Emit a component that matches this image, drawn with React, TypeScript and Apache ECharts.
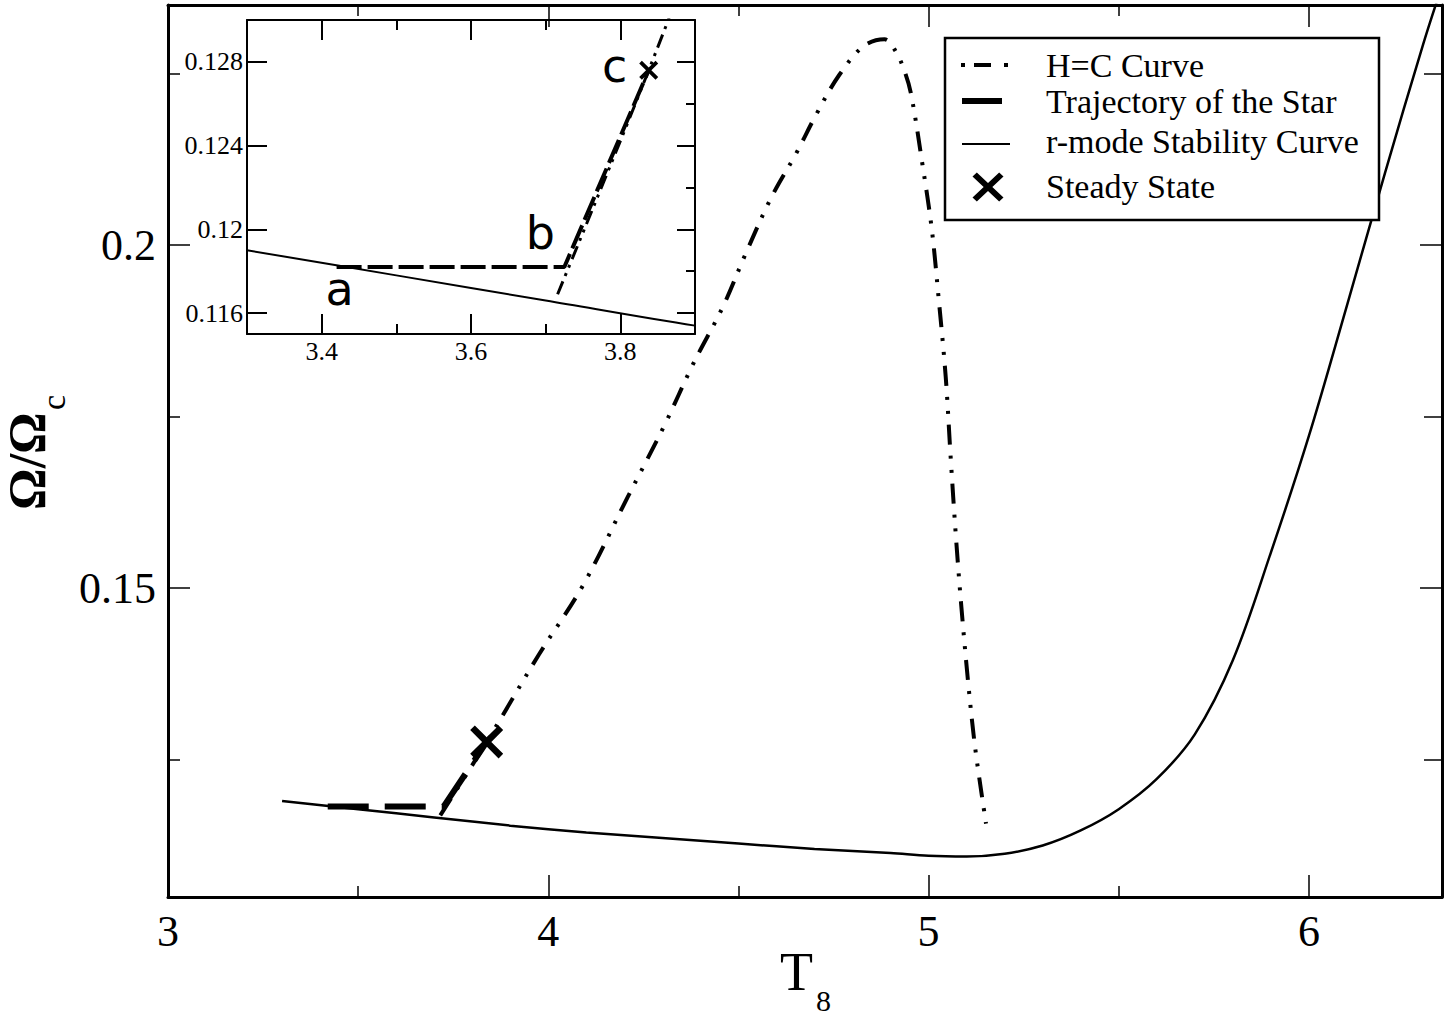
import React, { useEffect, useRef } from "react";
import * as echarts from "echarts";

// r-mode stability curve
const T_RMODE = [3.3, 3.5, 3.7, 3.9, 4.1, 4.3, 4.5, 4.7, 4.9, 5.0, 5.1, 5.2, 5.3, 5.4, 5.5, 5.6, 5.7, 5.8, 5.9, 6.0, 6.1, 6.2, 6.3, 6.35];
const OMEGA_RMODE = [0.119, 0.1178, 0.1166, 0.1154, 0.1144, 0.1136, 0.1128, 0.112, 0.1114, 0.111, 0.1109, 0.1113, 0.1125, 0.1147, 0.1178, 0.1222, 0.1287, 0.1395, 0.1552, 0.1722, 0.1912, 0.2105, 0.2292, 0.2378];

// H=C curve
const T_HC = [3.716, 3.838, 3.975, 4.091, 4.208, 4.305, 4.381, 4.459, 4.517, 4.585, 4.653, 4.706, 4.765, 4.829, 4.884, 4.913, 4.937, 4.954, 4.984, 5.008, 5.026, 5.045, 5.058, 5.072, 5.086, 5.105, 5.123, 5.151];
const OMEGA_HC = [0.1169, 0.1276, 0.1403, 0.1504, 0.1632, 0.1737, 0.1827, 0.191, 0.1985, 0.2068, 0.2135, 0.2192, 0.2248, 0.229, 0.23, 0.2283, 0.2253, 0.222, 0.2117, 0.2025, 0.1925, 0.1808, 0.1691, 0.1574, 0.1474, 0.1357, 0.1265, 0.1157];

// trajectory of the star (a -> b -> c)
const T_TRAJ = [3.42, 3.725, 3.838];
const OMEGA_TRAJ = [0.1182, 0.1182, 0.1276];
const TRAJ_LABELS = ["a", "b", "c"];

// steady state
const T_STEADY = [3.838];
const OMEGA_STEADY = [0.1276];

// ticks
const MAIN_X_MAJOR = [3, 4, 5, 6];
const MAIN_X_MINOR = [3.5, 4.5, 5.5];
const MAIN_Y_MAJOR = [0.15, 0.2];
const MAIN_Y_MINOR = [0.125, 0.175, 0.225];
const INSET_X_MAJOR = [3.4, 3.6, 3.8];
const INSET_X_MINOR = [3.5, 3.7];
const INSET_Y_MAJOR = [0.116, 0.12, 0.124, 0.128];
const INSET_Y_MINOR = [0.118, 0.122, 0.126];

const LEGEND_NAMES = ["H=C Curve", "Trajectory of the Star", "r-mode Stability Curve", "Steady State"];

const SERIF = "'Liberation Serif', 'Times New Roman', serif";
const X_PATH = "path://M0 14L14 0L50 36L86 0L100 14L64 50L100 86L86 100L50 64L14 100L0 86L36 50Z";
const X_PTS = [[0, 14], [14, 0], [50, 36], [86, 0], [100, 14], [64, 50], [100, 86], [86, 100], [50, 64], [14, 100], [0, 86], [36, 50]];

const zip = (xs: number[], ys: number[]) => xs.map((x, i) => [x, ys[i]]);
const fmt = (v: number) => String(parseFloat(Number(v).toFixed(4)));

const axis = (
  gridIndex: number,
  position: string,
  min: number,
  max: number,
  ticks: number[],
  tickLen: number,
  tickWidth: number,
  lineWidth: number,
  labels?: number[],
  labelStyle?: any
) => ({
  type: "value",
  gridIndex,
  position,
  min,
  max,
  axisLine: { show: lineWidth > 0, onZero: false, lineStyle: { color: "#000", width: lineWidth } },
  axisTick: { show: true, inside: true, length: tickLen, customValues: ticks, lineStyle: { color: "#000", width: tickWidth } },
  axisLabel: labels
    ? { show: true, customValues: labels, formatter: fmt, color: "#000", fontFamily: SERIF, ...labelStyle }
    : { show: false },
  splitLine: { show: false },
  minorTick: { show: false },
});

const App: React.FC = () => {
  const chartRef = useRef<HTMLDivElement | null>(null);

  useEffect(() => {
    if (!chartRef.current) return;
    const chart = echarts.init(chartRef.current, null, { renderer: "svg" });

    const mainLabel = { fontSize: 44, margin: 12 };
    const insetLabel = { fontSize: 26, margin: 4 };

    const legendRows = [65, 101, 141, 186];

    const option = {
      animation: false,
      backgroundColor: "#fff",
      grid: [
        { left: 168, top: 5, width: 1274, height: 892, containLabel: false, outerBoundsMode: "none" },
        { left: 247, top: 20, width: 448, height: 314, containLabel: false, outerBoundsMode: "none", show: true, backgroundColor: "#fff", borderWidth: 0 },
      ],
      xAxis: [
        axis(0, "bottom", 3, 6.35, MAIN_X_MAJOR, 22, 1.5, 3, MAIN_X_MAJOR, mainLabel),
        axis(0, "bottom", 3, 6.35, MAIN_X_MINOR, 11, 1.5, 0),
        axis(0, "top", 3, 6.35, MAIN_X_MAJOR, 22, 1.5, 3),
        axis(0, "top", 3, 6.35, MAIN_X_MINOR, 11, 1.5, 0),
        axis(1, "bottom", 3.3, 3.9, INSET_X_MAJOR, 20, 2, 2, INSET_X_MAJOR, insetLabel),
        axis(1, "bottom", 3.3, 3.9, INSET_X_MINOR, 10, 2, 0),
        axis(1, "top", 3.3, 3.9, INSET_X_MAJOR, 20, 2, 2),
        axis(1, "top", 3.3, 3.9, INSET_X_MINOR, 10, 2, 0),
      ],
      yAxis: [
        axis(0, "left", 0.105, 0.235, MAIN_Y_MAJOR, 22, 1.5, 3, MAIN_Y_MAJOR, mainLabel),
        axis(0, "left", 0.105, 0.235, MAIN_Y_MINOR, 12, 1.5, 0),
        axis(0, "right", 0.105, 0.235, MAIN_Y_MAJOR, 22, 1.5, 3),
        axis(0, "right", 0.105, 0.235, MAIN_Y_MINOR, 18, 1.5, 0),
        axis(1, "left", 0.115, 0.13, INSET_Y_MAJOR, 20, 2, 2, INSET_Y_MAJOR, insetLabel),
        axis(1, "right", 0.115, 0.13, INSET_Y_MAJOR, 18, 2, 2),
        axis(1, "right", 0.115, 0.13, INSET_Y_MINOR, 9, 2, 0),
      ],
      series: [
        // main plot
        {
          type: "line", xAxisIndex: 0, yAxisIndex: 0, data: zip(T_RMODE, OMEGA_RMODE),
          smooth: 0.35, showSymbol: false, symbol: "none",
          lineStyle: { color: "#000", width: 2.5 },
        },
        {
          type: "line", xAxisIndex: 0, yAxisIndex: 0, data: zip(T_HC, OMEGA_HC),
          smooth: 0.35, showSymbol: false, symbol: "none",
          lineStyle: { color: "#000", width: 4, type: [20, 11, 3, 11, 3, 11], cap: "butt" },
        },
        {
          type: "line", xAxisIndex: 0, yAxisIndex: 0, data: zip(T_TRAJ, OMEGA_TRAJ),
          showSymbol: false, symbol: "none",
          lineStyle: { color: "#000", width: 6, type: [41, 16], cap: "butt" },
        },
        {
          type: "scatter", xAxisIndex: 0, yAxisIndex: 0, data: zip(T_STEADY, OMEGA_STEADY),
          symbol: X_PATH, symbolSize: 33, itemStyle: { color: "#000", opacity: 1 },
        },
        // inset
        {
          type: "line", xAxisIndex: 4, yAxisIndex: 4, data: zip(T_RMODE, OMEGA_RMODE),
          smooth: 0.35, showSymbol: false, symbol: "none", clip: true,
          lineStyle: { color: "#000", width: 2 },
        },
        {
          type: "line", xAxisIndex: 4, yAxisIndex: 4, data: zip(T_HC, OMEGA_HC),
          smooth: 0.35, showSymbol: false, symbol: "none", clip: true,
          lineStyle: { color: "#000", width: 3, type: [14, 6, 3, 6, 3, 6], cap: "butt" },
        },
        {
          type: "line", xAxisIndex: 4, yAxisIndex: 4, data: zip(T_TRAJ, OMEGA_TRAJ),
          showSymbol: false, symbol: "none", clip: true,
          lineStyle: { color: "#000", width: 4, type: [25, 6], cap: "butt" },
        },
        {
          type: "scatter", xAxisIndex: 4, yAxisIndex: 4, data: zip(T_STEADY, OMEGA_STEADY),
          symbol: X_PATH, symbolSize: 19, itemStyle: { color: "#000", opacity: 1 },
        },
        {
          type: "scatter", xAxisIndex: 4, yAxisIndex: 4,
          data: T_TRAJ.map((t, i) => ({
            value: [t, OMEGA_TRAJ[i]],
            label: { formatter: TRAJ_LABELS[i], offset: [[3, 22], [-24, -34], [-34, -4]][i] },
          })),
          symbol: "circle", symbolSize: 1, itemStyle: { color: "#fff", opacity: 0 },
          label: {
            show: true, position: "inside", color: "#000", opacity: 1, fontSize: 46,
            fontFamily: "'DejaVu Sans', sans-serif", align: "center", verticalAlign: "middle",
          },
        },
      ],
      graphic: [
        // legend
        { type: "rect", z: 100, shape: { x: 945, y: 38, width: 434, height: 182 }, style: { fill: "#fff", stroke: "#000", lineWidth: 2.5 } },
        { type: "rect", z: 101, shape: { x: 961, y: legendRows[0] - 2, width: 4, height: 4 }, style: { fill: "#000" } },
        { type: "rect", z: 101, shape: { x: 974, y: legendRows[0] - 2, width: 17, height: 4 }, style: { fill: "#000" } },
        { type: "rect", z: 101, shape: { x: 1004, y: legendRows[0] - 2, width: 4, height: 4 }, style: { fill: "#000" } },
        { type: "rect", z: 101, shape: { x: 962, y: legendRows[1] - 3, width: 40, height: 6 }, style: { fill: "#000" } },
        { type: "line", z: 101, shape: { x1: 962, y1: legendRows[2] + 3, x2: 1010, y2: legendRows[2] + 3 }, style: { stroke: "#000", lineWidth: 2 } },
        {
          type: "polygon", z: 101,
          shape: { points: X_PTS.map(([a, b]) => [988 + ((a - 50) * 31) / 100, legendRows[3] + 1 + ((b - 50) * 29) / 100]) },
          style: { fill: "#000" },
        },
        ...LEGEND_NAMES.map((name, i) => ({
          type: "text", z: 101, x: 1046, y: legendRows[i],
          style: { text: name, fontSize: 34, fontFamily: SERIF, fill: "#000", align: "left", verticalAlign: "middle" },
        })),
        // x axis title
        { type: "text", x: 780, y: 972, style: { text: "T", fontSize: 54, fontFamily: SERIF, fill: "#000", align: "left", verticalAlign: "middle" } },
        { type: "text", x: 816, y: 1000, style: { text: "8", fontSize: 30, fontFamily: SERIF, fill: "#000", align: "left", verticalAlign: "middle" } },
        // y axis title
        {
          type: "group", x: 27, y: 510, rotation: Math.PI / 2,
          children: [
            { type: "text", x: 0, y: 0, style: { text: "Ω/Ω", fontSize: 52, fontWeight: "bold", fontFamily: SERIF, fill: "#000", align: "left", verticalAlign: "middle" } },
            { type: "text", x: 100, y: 26, style: { text: "c", fontSize: 34, fontFamily: SERIF, fill: "#000", align: "left", verticalAlign: "middle" } },
          ],
        },
      ],
    };

    chart.setOption(option as any);

    return () => {
      chart.dispose();
    };
  }, []);

  return (
    <div
      ref={chartRef}
      style={{ position: "fixed", left: 0, top: 0, width: 1450, height: 1019, background: "#fff" }}
    />
  );
};

export default App;
